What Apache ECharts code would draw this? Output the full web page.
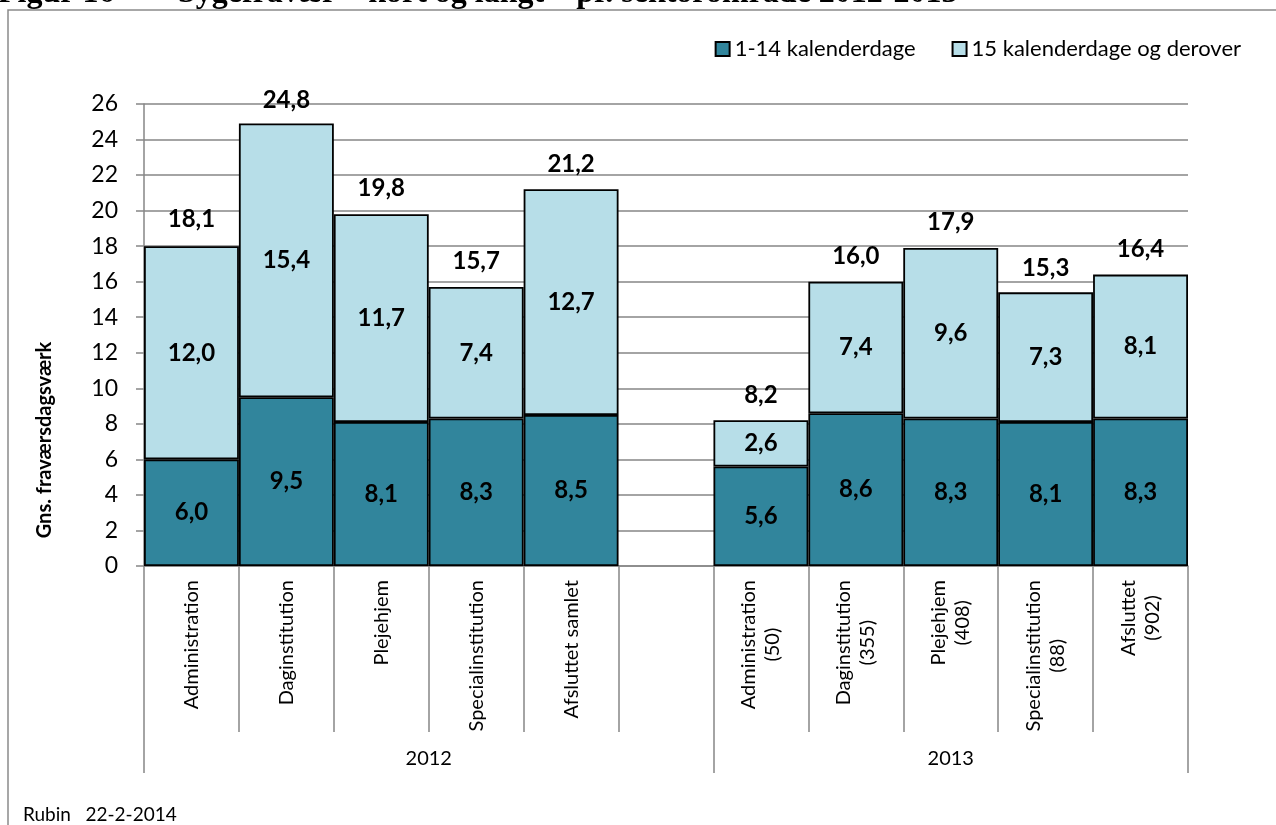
<!DOCTYPE html>
<html>
<head>
<meta charset="utf-8">
<script src="https://cdn.jsdelivr.net/npm/echarts@6/dist/echarts.min.js"></script>
<style>
html,body{margin:0;padding:0;background:#fff;}
#chart{width:1276px;height:825px;}
</style>
</head>
<body>
<div id="chart"></div>
<script>
// ---- data ----
const categories = [
  'Administration', 'Daginstitution', 'Plejehjem', 'Specialinstitution', 'Afsluttet samlet',
  '',
  'Administration\n(50)', 'Daginstitution\n(355)', 'Plejehjem\n(408)', 'Specialinstitution\n(88)', 'Afsluttet\n(902)'
];
const groupNames = ['2012', '2013'];
const groupBounds = [0, 6, 11];
const shortTerm = [6.0, 9.5, 8.1, 8.3, 8.5, null, 5.6, 8.6, 8.3, 8.1, 8.3];
const longTerm = [12.0, 15.4, 11.7, 7.4, 12.7, null, 2.6, 7.4, 9.6, 7.3, 8.1];
const totals = [18.1, 24.8, 19.8, 15.7, 21.2, null, 8.2, 16.0, 17.9, 15.3, 16.4];
const seriesNames = ['1-14 kalenderdage', '15 kalenderdage og derover'];
const yTicks = { min: 0, max: 26, interval: 2 };

// ---- chart ----
const FONT = 'Lato';
const GRID_COLOR = '#868686';
const fmt = v => (v == null ? '' : Number(v).toFixed(1).replace('.', ','));
const groupMids = groupNames.map((g, i) => (groupBounds[i] + groupBounds[i + 1]) / 2);

const chart = echarts.init(document.getElementById('chart'), null, { renderer: 'canvas' });

const dataLabel = { fontFamily: FONT, fontSize: 24, fontWeight: 'bold', color: '#000' };

const option = {
  animation: false,
  textStyle: { fontFamily: FONT },
  grid: { left: 144, right: 88, top: 104, bottom: 259, containLabel: false },
  legend: {
    data: seriesNames,
    right: 30,
    top: 33,
    itemWidth: 14,
    itemHeight: 14,
    itemGap: 36,
    icon: 'rect',
    textStyle: { fontFamily: FONT, fontSize: 22, color: '#000' },
    selectedMode: false
  },
  xAxis: [
    {
      type: 'category',
      data: categories,
      position: 'bottom',
      axisLine: { show: true, lineStyle: { color: GRID_COLOR, width: 1.5 } },
      axisTick: { show: true, interval: 0, length: 166, alignWithLabel: false, lineStyle: { color: GRID_COLOR, width: 1.5 } },
      axisLabel: {
        interval: 0,
        rotate: 90,
        margin: 14,
        color: '#000',
        fontFamily: FONT,
        fontSize: 20,
        lineHeight: 24,
        formatter: v => v.split('\n').map(l => '{c|' + l + '}').join('\n'),
        rich: { c: { align: 'center', fontFamily: FONT, fontSize: 20, lineHeight: 24, color: '#000' } }
      },
      splitLine: { show: false }
    },
    {
      type: 'value',
      min: groupBounds[0],
      max: groupBounds[groupBounds.length - 1],
      position: 'bottom',
      axisLine: { show: false },
      axisTick: { show: true, customValues: groupBounds, length: 207, lineStyle: { color: GRID_COLOR, width: 1.5 } },
      axisLabel: {
        customValues: groupMids,
        margin: 183,
        color: '#000',
        fontFamily: FONT,
        fontSize: 20,
        formatter: v => groupNames[groupMids.indexOf(v)] || ''
      },
      splitLine: { show: false }
    }
  ],
  yAxis: {
    type: 'value',
    min: yTicks.min,
    max: yTicks.max,
    interval: yTicks.interval,
    axisLine: { show: true, lineStyle: { color: GRID_COLOR, width: 1.5 } },
    axisTick: { show: true, length: 8, lineStyle: { color: GRID_COLOR, width: 1.5 } },
    axisLabel: { margin: 26, color: '#000', fontFamily: FONT, fontSize: 23 },
    splitLine: { show: true, lineStyle: { color: GRID_COLOR, width: 1.5 } }
  },
  series: [
    {
      name: seriesNames[0],
      type: 'bar',
      stack: 'total',
      barCategoryGap: '0%',
      data: shortTerm,
      itemStyle: { color: '#31859C', borderColor: '#000', borderWidth: 1.8 },
      label: Object.assign({ show: true, position: 'inside', formatter: p => fmt(p.value) }, dataLabel),
      emphasis: { disabled: true },
      silent: true
    },
    {
      name: seriesNames[1],
      type: 'bar',
      stack: 'total',
      barCategoryGap: '0%',
      data: longTerm,
      itemStyle: { color: '#B7DEE8', borderColor: '#000', borderWidth: 1.8 },
      label: Object.assign({ show: true, position: 'inside', formatter: p => fmt(p.value) }, dataLabel),
      emphasis: { disabled: true },
      silent: true
    },
    {
      name: 'Total',
      type: 'scatter',
      data: totals,
      symbolSize: 1,
      itemStyle: { color: 'rgba(0,0,0,0)', opacity: 1 },
      label: Object.assign({ show: true, position: 'top', distance: 13, formatter: p => fmt(p.value) }, dataLabel),
      emphasis: { disabled: true },
      silent: true,
      z: 5
    }
  ],
  graphic: [
    {
      type: 'rect',
      silent: true,
      shape: { x: 8, y: 10, width: 1400, height: 1000 },
      style: { fill: 'none', stroke: '#8a8a8a', lineWidth: 1.5 }
    },
    {
      type: 'text',
      silent: true,
      style: { x: -2, y: 10, text: 'Figur 16', font: 'bold 32px "Liberation Serif"', fill: '#000', textVerticalAlign: 'bottom' }
    },
    {
      type: 'text',
      silent: true,
      style: { x: 178, y: 10, text: 'Sygefravær – kort og langt – pr. sektorområde 2012-2013', font: 'bold 32px "Liberation Serif"', fill: '#000', textVerticalAlign: 'bottom' }
    },
    {
      type: 'text',
      silent: true,
      x: 45,
      y: 440,
      rotation: Math.PI / 2,
      style: { x: 0, y: 0, text: 'Gns. fraværsdagsværk', font: 'bold 20px Lato', fill: '#000', textAlign: 'center', textVerticalAlign: 'middle' }
    },
    {
      type: 'text',
      silent: true,
      style: { x: 23, y: 815, text: 'Rubin   22-2-2014', font: '19px Lato', fill: '#000', textVerticalAlign: 'middle' }
    }
  ]
};

chart.setOption(option);
</script>
</body>
</html>
